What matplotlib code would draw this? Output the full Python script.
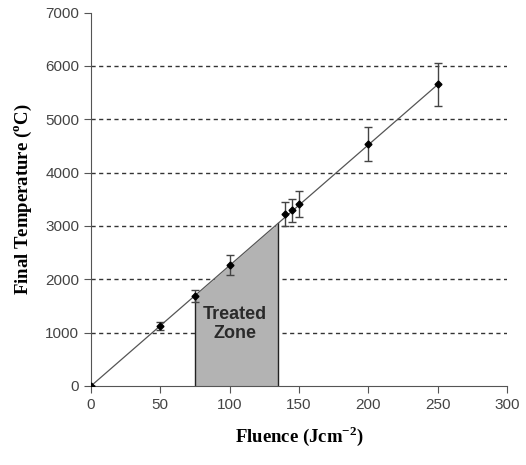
import matplotlib
matplotlib.use("Agg")
import matplotlib.pyplot as plt
import numpy as np

plt.rcParams["mathtext.fontset"] = "custom"
plt.rcParams["mathtext.rm"] = "Liberation Serif"
plt.rcParams["mathtext.bf"] = "Liberation Serif:bold"

fluence = [0, 50, 75, 100, 140, 145, 150, 200, 250]
temperature = [0, 1125, 1688, 2269, 3225, 3290, 3406, 4537, 5656]
errors = [0, 70, 120, 180, 220, 210, 240, 320, 400]
fit_x = [0, 250]
fit_y = [0, 5650]
zone = [75, 135]
xticks = [0, 50, 100, 150, 200, 250, 300]
yticks = [0, 1000, 2000, 3000, 4000, 5000, 6000, 7000]

fig = plt.figure(figsize=(5.26, 4.65), dpi=100)
ax = fig.add_axes([0.173, 0.170, 0.791, 0.803])

slope = (fit_y[1] - fit_y[0]) / (fit_x[1] - fit_x[0])
zx = np.array(zone)
zy = fit_y[0] + slope * zx
ax.fill_between(zx, [0, 0], zy, color="#b3b3b3", zorder=1, linewidth=0)
for xv, yv in zip(zx, zy):
    ax.plot([xv, xv], [0, yv], color="#222222", lw=1.0, zorder=2)

for yv in yticks[1:-1]:
    ax.axhline(yv, color="#333333", lw=1.0, ls=(0, (3, 2.5)), zorder=0.5)

ax.plot(fit_x, fit_y, color="#555555", lw=0.9, zorder=3)
ax.errorbar(fluence, temperature, yerr=errors, fmt="D", color="black", ms=3.5,
            ecolor="#444444", elinewidth=1.0, capsize=3, capthick=1.0, zorder=4)

ax.text(104, 1160, "Treated\nZone", ha="center", va="center", fontsize=13,
        fontweight="bold", color="#2a2a2a", family="Liberation Sans", linespacing=1.15, zorder=5)

ax.set_xlim(0, 300)
ax.set_ylim(0, 7000)
ax.set_xticks(xticks)
ax.set_yticks(yticks)
for s in ["top", "right"]:
    ax.spines[s].set_visible(False)
for s in ["left", "bottom"]:
    ax.spines[s].set_color("#555555")
ax.tick_params(direction="out", length=5, colors="#555555", labelcolor="#444444", labelsize=11)
for lab in ax.get_xticklabels() + ax.get_yticklabels():
    lab.set_family("Liberation Sans")

ax.set_xlabel("Fluence (Jcm$^{\\mathbf{-2}}$)", family="Liberation Serif", fontweight="bold",
              fontsize=13.5, labelpad=9)
ax.set_ylabel("Final Temperature ($^{\\mathbf{o}}$C)", family="Liberation Serif", fontweight="bold",
              fontsize=13.5, labelpad=8)

fig.savefig("out.png", dpi=100)
